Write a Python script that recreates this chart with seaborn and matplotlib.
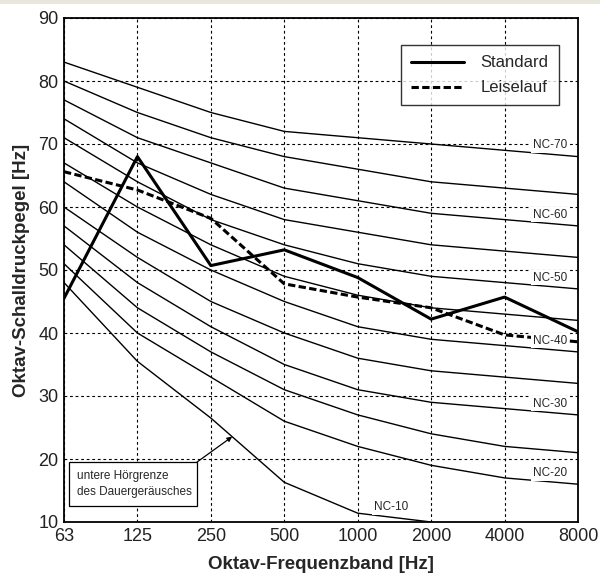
import numpy as np
import pandas as pd
import matplotlib
matplotlib.use("Agg")
import matplotlib.pyplot as plt
from matplotlib import font_manager
from matplotlib.patches import Rectangle
import seaborn as sns

# Octave bands
bands = ["63", "125", "250", "500", "1000", "2000", "4000", "8000"]

# Noise criterion curves (octave band levels in dB)
nc_70 = [83, 79, 75, 72, 71, 70, 69, 68]
nc_65 = [80, 75, 71, 68, 66, 64, 63, 62]
nc_60 = [77, 71, 67, 63, 61, 59, 58, 57]
nc_55 = [74, 67, 62, 58, 56, 54, 53, 52]
nc_50 = [71, 64, 58, 54, 51, 49, 48, 47]
nc_45 = [67, 60, 54, 49, 46, 44, 43, 42]
nc_40 = [64, 56, 50, 45, 41, 39, 38, 37]
nc_35 = [60, 52, 45, 40, 36, 34, 33, 32]
nc_30 = [57, 48, 41, 35, 31, 29, 28, 27]
nc_25 = [54, 44, 37, 31, 27, 24, 22, 21]
nc_20 = [51, 40, 33, 26, 22, 19, 17, 16]
# lower hearing limit for continuous noise (NC-10)
nc_10 = [48, 35.5, 26.5, 16.3, 11.4, 10.0]

nc_curves = [nc_70, nc_65, nc_60, nc_55, nc_50, nc_45, nc_40,
             nc_35, nc_30, nc_25, nc_20]
nc_labels = {"NC-70": nc_70, "NC-60": nc_60, "NC-50": nc_50,
             "NC-40": nc_40, "NC-30": nc_30, "NC-20": nc_20}

# Measured spectra
standard = [45.5, 68.0, 50.7, 53.2, 48.8, 42.2, 45.7, 40.2]
leiselauf = [65.6, 62.7, 58.2, 47.8, 45.7, 44.0, 39.7, 38.6]

sns.set_theme(style="white")
avail = {f.name for f in font_manager.fontManager.ttflist}
narrow = "Liberation Sans Narrow" if "Liberation Sans Narrow" in avail else "Liberation Sans"
plt.rcParams["font.family"] = [narrow, "DejaVu Sans"]

fig = plt.figure(figsize=(6.0, 5.75), dpi=100)
ax = fig.add_axes([64 / 600, 1 - 522 / 575, 514 / 600, 504 / 575])

pos = np.arange(len(bands))

# NC curves
for curve in nc_curves:
    sns.lineplot(x=pos[:len(curve)], y=curve, ax=ax, color="black",
                 lw=1.0, zorder=3, legend=False)
sns.lineplot(x=pos[:len(nc_10)], y=nc_10, ax=ax, color="black",
             lw=1.0, zorder=3, legend=False)

# Measured series
df = pd.DataFrame({
    "band": np.concatenate([pos, pos]),
    "level": standard + leiselauf,
    "mode": ["Standard"] * len(pos) + ["Leiselauf"] * len(pos),
})
sns.lineplot(data=df, x="band", y="level", style="mode",
             style_order=["Standard", "Leiselauf"],
             dashes={"Standard": "", "Leiselauf": (2.4, 1.1)},
             color="black", lw=2.2, ax=ax, zorder=4)

# NC labels with white background
lx = 6.62
for name, curve in nc_labels.items():
    ly = np.interp(lx, pos, curve) + 1.4
    ax.text(lx, ly, name, ha="center", va="center", fontsize=8.5,
            zorder=5, bbox=dict(boxstyle="square,pad=0.15", fc="white", ec="none"))
lx10 = 4.45
ax.text(lx10, np.interp(lx10, pos[:len(nc_10)], nc_10) + 1.6, "NC-10",
        ha="center", va="center", fontsize=8.5, zorder=5,
        bbox=dict(boxstyle="square,pad=0.15", fc="white", ec="none"))

# Annotation box for the hearing threshold
box_x0, box_x1, box_y0, box_y1 = 0.07, 1.81, 12.5, 19.5
ax.add_patch(Rectangle((box_x0, box_y0), box_x1 - box_x0, box_y1 - box_y0,
                       fc="white", ec="black", lw=0.9, zorder=5))
ax.text(box_x0 + 0.11, (box_y0 + box_y1) / 2, "untere Hörgrenze\ndes Dauergeräusches",
        ha="left", va="center", fontsize=8.5, linespacing=1.5, zorder=6)
tip_x = 2.29
ax.annotate("", xy=(tip_x, np.interp(tip_x, pos[:len(nc_10)], nc_10)),
            xytext=(box_x1, box_y1),
            arrowprops=dict(arrowstyle="-|>", color="black", lw=0.9,
                            mutation_scale=7, shrinkA=0, shrinkB=0), zorder=6)

# Axes styling
ax.set_xlim(0, len(bands) - 1)
ax.set_ylim(10, 90)
ax.set_xticks(pos)
ax.set_xticklabels(bands)
ax.set_yticks(np.arange(10, 91, 10))
ax.tick_params(axis="both", length=0, labelsize=13, pad=4, colors="#222222")
ax.grid(True, color="black", linestyle=(0, (2.5, 2.5)), lw=0.8, zorder=1)
for s in ax.spines.values():
    s.set_color("black")
    s.set_linewidth(1.3)
ax.set_xlabel("Oktav-Frequenzband [Hz]", fontsize=13.5, fontweight="bold", labelpad=8)
ax.set_ylabel("Oktav-Schalldruckpegel [Hz]", fontsize=13.5, fontweight="bold", labelpad=6)

leg = ax.legend(loc="upper right", bbox_to_anchor=(0.9786, 0.9623),
                fontsize=12, frameon=True, fancybox=False, handlelength=3.2,
                borderpad=0.6, labelspacing=0.6, handletextpad=1.0)
leg.get_frame().set_edgecolor("black")
leg.get_frame().set_linewidth(1.0)
leg.set_zorder(7)
for h in leg.get_lines():
    h.set_linewidth(2.2)

# thin band along the top edge of the figure
fig.patches.append(Rectangle((0, 1 - 4 / 575), 1, 4 / 575, transform=fig.transFigure,
                             fc="#e9e6de", ec="none"))

fig.savefig("out.png", dpi=100)
